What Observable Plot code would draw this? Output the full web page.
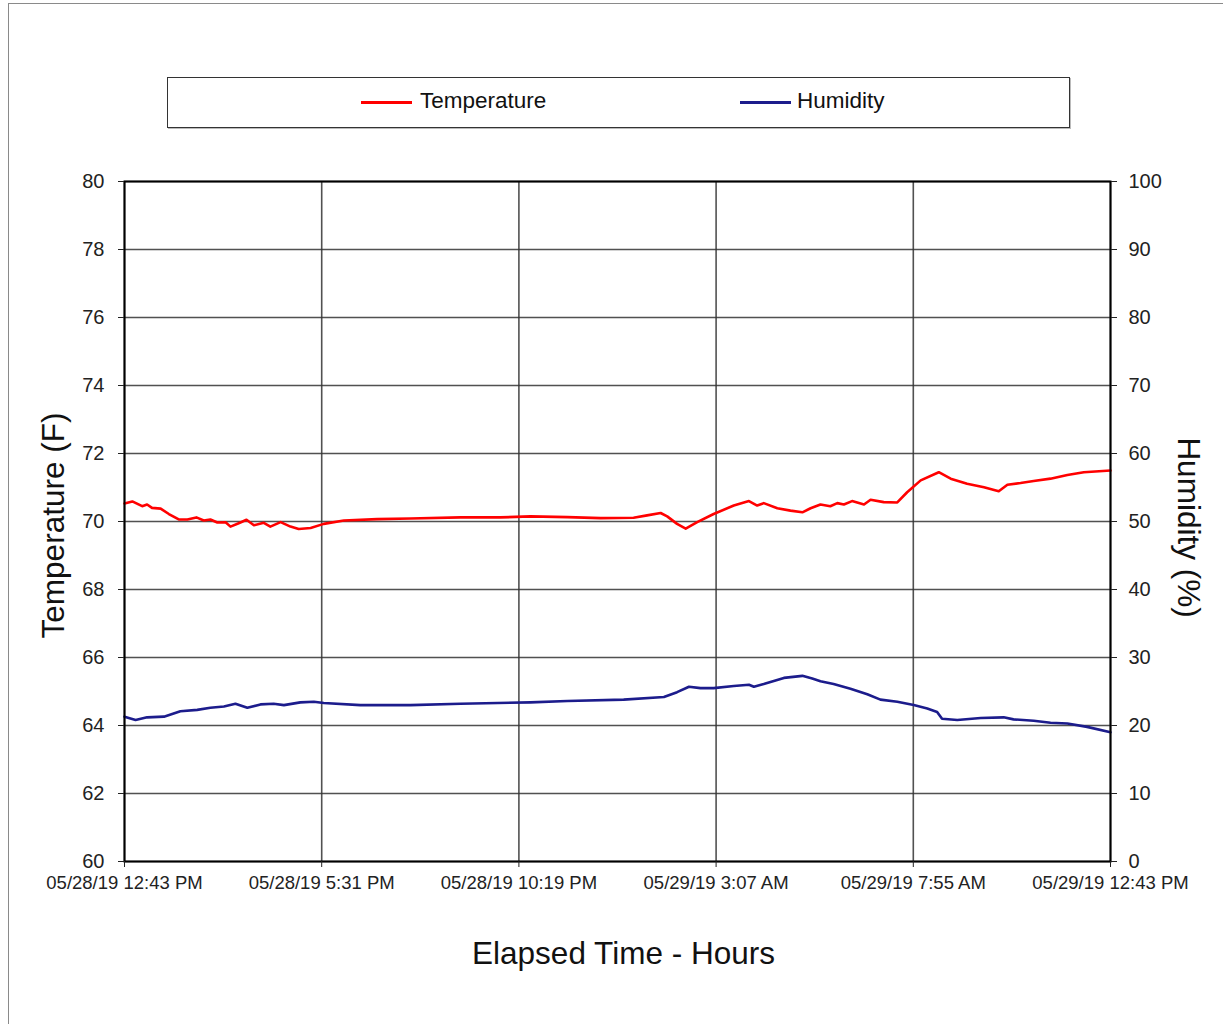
<!DOCTYPE html>
<html>
<head>
<meta charset="utf-8">
<script src="https://cdn.jsdelivr.net/npm/d3@7"></script>
<script src="https://cdn.jsdelivr.net/npm/@observablehq/plot@0.6"></script>
<style>
  html, body { margin: 0; padding: 0; background: #fff; }
  body { width: 1223px; height: 1024px; position: relative; overflow: hidden;
         font-family: "Liberation Sans", Arial, sans-serif; }
  #frame { position: absolute; left: 8px; top: 3px; width: 1260px; height: 1060px;
           border-left: 1.5px solid #8a8a8a; border-top: 1.5px solid #8a8a8a; }
  #legend { position: absolute; left: 167px; top: 77px; width: 901px; height: 49px;
            border: 1.5px solid #333; box-shadow: 1px 1px 0 #bbb; background: #fff; }
  .sw { position: absolute; top: 23px; height: 3px; width: 51px; }
  .lt { position: absolute; top: 10px; font-size: 22.5px; color: #111; line-height: 26px; }
  #chart { position: absolute; left: 0; top: 150px; }
</style>
</head>
<body>
<div id="frame"></div>
<div id="legend">
  <div class="sw" style="left:193px;background:#ff0000"></div>
  <div class="lt" style="left:252px">Temperature</div>
  <div class="sw" style="left:572px;background:#1c1c8c"></div>
  <div class="lt" style="left:629px">Humidity</div>
</div>
<div id="chart"></div>
<script>
// ---- data (hours elapsed since 05/28/19 12:43 PM) ----
const tempHours = [0, 0.19, 0.43, 0.55, 0.67, 0.88, 1.08, 1.32, 1.53, 1.75, 1.93, 2.09, 2.26, 2.46, 2.58, 2.78, 2.97, 3.15, 3.39, 3.55, 3.80, 4.04, 4.24, 4.53, 4.85, 5.34, 6.15, 6.96, 8.18, 9.15, 9.88, 10.78, 11.59, 12.39, 12.72, 13.05, 13.21, 13.45, 13.66, 13.94, 14.34, 14.83, 15.20, 15.40, 15.56, 15.89, 16.21, 16.50, 16.70, 16.94, 17.18, 17.35, 17.51, 17.71, 18.00, 18.16, 18.48, 18.81, 19.05, 19.38, 19.82, 20.11, 20.51, 20.92, 21.28, 21.49, 21.81, 22.13, 22.54, 22.95, 23.35, 24.00];
const tempF = [70.53, 70.59, 70.45, 70.50, 70.40, 70.38, 70.22, 70.06, 70.06, 70.12, 70.03, 70.06, 69.97, 69.98, 69.85, 69.95, 70.05, 69.89, 69.96, 69.85, 69.98, 69.85, 69.78, 69.81, 69.93, 70.03, 70.07, 70.09, 70.12, 70.12, 70.15, 70.13, 70.10, 70.11, 70.18, 70.25, 70.15, 69.93, 69.79, 69.98, 70.22, 70.47, 70.60, 70.47, 70.54, 70.39, 70.32, 70.27, 70.39, 70.50, 70.45, 70.54, 70.50, 70.60, 70.50, 70.64, 70.57, 70.56, 70.86, 71.21, 71.45, 71.26, 71.11, 71.01, 70.89, 71.08, 71.13, 71.19, 71.26, 71.37, 71.45, 71.50];

const humHours = [0, 0.27, 0.55, 0.96, 1.36, 1.77, 2.09, 2.42, 2.70, 2.99, 3.31, 3.63, 3.88, 4.28, 4.61, 4.85, 5.74, 6.96, 8.18, 9.88, 10.78, 12.15, 13.13, 13.45, 13.74, 14.02, 14.34, 14.83, 15.20, 15.32, 15.56, 16.05, 16.50, 16.74, 16.94, 17.26, 17.67, 18.08, 18.40, 18.81, 19.21, 19.54, 19.78, 19.90, 20.27, 20.84, 21.40, 21.64, 22.13, 22.54, 22.95, 23.43, 24.00];
const humPct = [21.3, 20.8, 21.2, 21.3, 22.1, 22.3, 22.6, 22.8, 23.2, 22.6, 23.1, 23.2, 23.0, 23.4, 23.5, 23.3, 23.0, 23.0, 23.2, 23.4, 23.6, 23.8, 24.2, 24.9, 25.7, 25.5, 25.5, 25.8, 26.0, 25.7, 26.1, 27.0, 27.3, 26.9, 26.5, 26.1, 25.4, 24.6, 23.8, 23.5, 23.0, 22.5, 22.0, 21.0, 20.8, 21.1, 21.2, 20.9, 20.7, 20.4, 20.3, 19.8, 19.0];

const xTickHours = [0, 4.8, 9.6, 14.4, 19.2, 24];
const xTickLabels = ["05/28/19 12:43 PM", "05/28/19 5:31 PM", "05/28/19 10:19 PM", "05/29/19 3:07 AM", "05/29/19 7:55 AM", "05/29/19 12:43 PM"];
const tempTicks = [60, 62, 64, 66, 68, 70, 72, 74, 76, 78, 80];
const humTicks = [0, 10, 20, 30, 40, 50, 60, 70, 80, 90, 100];

// ---- build tables ----
const t0 = Date.UTC(2019, 4, 28, 12, 43);
const toDate = h => new Date(t0 + h * 3600e3);
const humToTemp = h => 60 + h / 5;   // humidity 0..100 -> temp axis 60..80
const tempData = tempHours.map((h, i) => ({t: toDate(h), v: tempF[i]}));
const humData = humHours.map((h, i) => ({t: toDate(h), v: humToTemp(humPct[i])}));
const xTicks = xTickHours.map(toDate);
const labelByTime = new Map(xTicks.map((d, i) => [+d, xTickLabels[i]]));
const rightTicks = humTicks.map(humToTemp);
const font = "'Liberation Sans', Arial, sans-serif";

const chart = Plot.plot({
  width: 1223,
  height: 860,
  marginTop: 31,
  marginLeft: 124,
  marginRight: 113,
  marginBottom: 149,
  style: {fontFamily: font, fontSize: "18px", color: "#222", background: "transparent", overflow: "visible"},
  x: {type: "utc", domain: [toDate(0), toDate(24)]},
  y: {domain: [60, 80]},
  marks: [
    Plot.gridX(xTicks, {stroke: "#333", strokeOpacity: 0.85, strokeWidth: 1.6}),
    Plot.gridY(tempTicks, {stroke: "#333", strokeOpacity: 0.85, strokeWidth: 1.6}),
    Plot.line(humData, {x: "t", y: "v", stroke: "#1c1c8c", strokeWidth: 2.6}),
    Plot.line(tempData, {x: "t", y: "v", stroke: "#ff0000", strokeWidth: 2.6}),
    Plot.frame({stroke: "#000", strokeWidth: 2}),
    Plot.axisX(xTicks, {tickFormat: d => labelByTime.get(+d), tickSize: 6, tickPadding: 8, label: null, fontSize: 18.5}),
    Plot.axisY(tempTicks, {anchor: "left", tickSize: 6, tickPadding: 14, label: null, fontSize: 20}),
    Plot.axisY(rightTicks, {anchor: "right", tickSize: 6, tickPadding: 12, tickFormat: d => Math.round((d - 60) * 5), label: null, fontSize: 20}),
    Plot.text(["Temperature (F)"], {text: d => d, frameAnchor: "left", textAnchor: "middle", lineAnchor: "middle", dx: -71, dy: 4, rotate: -90, fontSize: 31.5, fill: "#111"}),
    Plot.text(["Humidity (%)"], {text: d => d, frameAnchor: "right", textAnchor: "middle", lineAnchor: "middle", dx: 78, dy: 6, rotate: 90, fontSize: 31.5, fill: "#111"}),
    Plot.text(["Elapsed Time - Hours"], {text: d => d, frameAnchor: "bottom", textAnchor: "middle", lineAnchor: "middle", dy: 92, dx: 6, fontSize: 31.5, fill: "#111"})
  ]
});
document.getElementById("chart").appendChild(chart);
</script>
</body>
</html>
